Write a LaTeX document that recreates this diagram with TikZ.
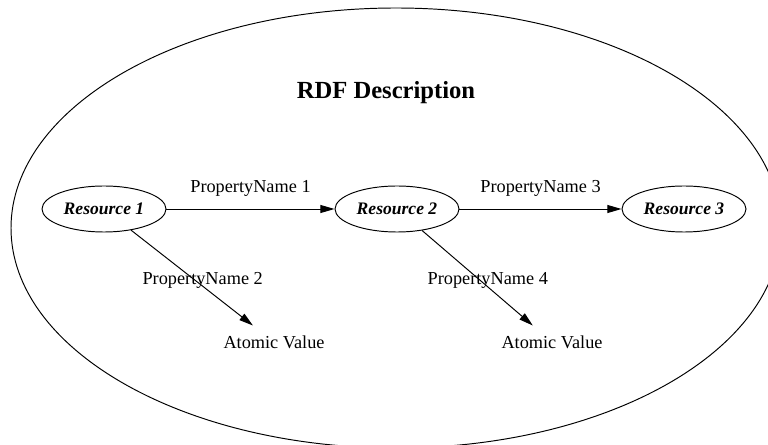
\documentclass[tikz,border=0pt]{standalone}
\usepackage{fontspec}
\setmainfont{Liberation Serif}
\usetikzlibrary{shapes.geometric,arrows.meta}
\tikzset{
  resnode/.style={draw,ellipse,inner sep=0pt,minimum width=2.48cm,minimum height=0.92cm,font=\bfseries\itshape},
  valnode/.style={inner sep=0pt,minimum height=0.64cm}
}
\begin{document}
\begin{tikzpicture}[font=\fontsize{10.4}{12}\selectfont,line width=0.55pt,>={Triangle[length=8pt,width=4.5pt]}]
  \useasboundingbox (0,0) rectangle (15.36,-8.9);
  \draw (7.92,-4.56) ellipse [x radius=7.70,y radius=4.40];
  \node (title) at (7.72,-1.86) {\fontsize{14}{17}\selectfont\bfseries RDF Description};
  \node[resnode] (r1) at (2.08,-4.18) {Resource 1};
  \node[resnode] (r2) at (7.94,-4.18) {Resource 2};
  \node[resnode] (r3) at (13.68,-4.18) {Resource 3};
  \node[valnode] (v1) at (5.48,-6.84) {Atomic Value};
  \node[valnode] (v2) at (11.04,-6.84) {Atomic Value};
  \draw[->] (r1) -- node[above=3.5pt]{PropertyName 1} (r2);
  \draw[->] (r2) -- node[above=3.5pt]{PropertyName 3} (r3);
  \draw[->] (r1) -- node[pos=0.53,xshift=4pt]{PropertyName 2} (v1);
  \draw[->] (r2) -- node[pos=0.53,xshift=4pt]{PropertyName 4} (v2);
\end{tikzpicture}
\end{document}
